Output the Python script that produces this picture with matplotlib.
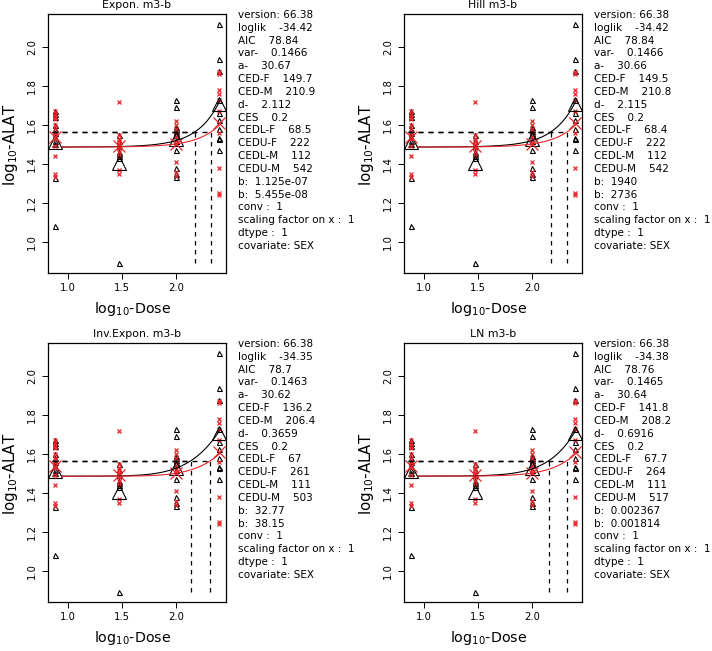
import math
import numpy as np
import matplotlib
matplotlib.use("Agg")
import matplotlib.pyplot as plt

W, H = 712, 651

# ---------------- data ----------------
log_dose_levels = [0.88, 1.477, 2.0, 2.398]

# females (black triangles)
female_vals = [
    [1.67, 1.655, 1.64, 1.60, 1.58, 1.56, 1.52, 1.50, 1.33, 1.08],
    [1.55, 1.52, 1.49, 1.46, 1.45, 1.44, 1.43, 0.89],
    [1.73, 1.69, 1.59, 1.58, 1.57, 1.56, 1.55, 1.52, 1.47, 1.38, 1.35, 1.335],
    [2.12, 1.94, 1.875, 1.73, 1.66, 1.625, 1.58, 1.535, 1.53, 1.47],
]
# males (red crosses)
male_vals = [
    [1.67, 1.655, 1.64, 1.63, 1.60, 1.58, 1.56, 1.55, 1.53, 1.49, 1.44, 1.35, 1.335],
    [1.72, 1.55, 1.53, 1.52, 1.50, 1.49, 1.48, 1.46, 1.44, 1.37, 1.35],
    [1.62, 1.60, 1.58, 1.56, 1.54, 1.52, 1.50, 1.41, 1.36, 1.34],
    [1.87, 1.86, 1.78, 1.76, 1.73, 1.67, 1.56, 1.38, 1.25, 1.24],
]

model_titles = ["Expon. m3-b", "Hill m3-b", "Inv.Expon. m3-b", "LN m3-b"]
model_kind = ["expon", "hill", "invexp", "ln"]
ces = 0.2
a_vals = [30.67, 30.66, 30.62, 30.64]
ced_f = [149.7, 149.5, 136.2, 141.8]
ced_m = [210.9, 210.8, 206.4, 208.2]
d_vals = [2.112, 2.115, 0.3659, 0.6916]
b_f = [1.125e-07, 1940, 32.77, 0.002367]
b_m = [5.455e-08, 2736, 38.15, 0.001814]

info_lines = [
    ["version: 66.38", "loglik    -34.42", "AIC    78.84", "var-    0.1466", "a-    30.67",
     "CED-F    149.7", "CED-M    210.9", "d-    2.112", "CES    0.2", "CEDL-F    68.5",
     "CEDU-F    222", "CEDL-M    112", "CEDU-M    542", "b:  1.125e-07", "b:  5.455e-08",
     "conv :  1", "scaling factor on x :  1", "dtype :  1", "covariate: SEX"],
    ["version: 66.38", "loglik    -34.42", "AIC    78.84", "var-    0.1466", "a-    30.66",
     "CED-F    149.5", "CED-M    210.8", "d-    2.115", "CES    0.2", "CEDL-F    68.4",
     "CEDU-F    222", "CEDL-M    112", "CEDU-M    542", "b:  1940", "b:  2736",
     "conv :  1", "scaling factor on x :  1", "dtype :  1", "covariate: SEX"],
    ["version: 66.38", "loglik    -34.35", "AIC    78.7", "var-    0.1463", "a-    30.62",
     "CED-F    136.2", "CED-M    206.4", "d-    0.3659", "CES    0.2", "CEDL-F    67",
     "CEDU-F    261", "CEDL-M    111", "CEDU-M    503", "b:  32.77", "b:  38.15",
     "conv :  1", "scaling factor on x :  1", "dtype :  1", "covariate: SEX"],
    ["version: 66.38", "loglik    -34.38", "AIC    78.76", "var-    0.1465", "a-    30.64",
     "CED-F    141.8", "CED-M    208.2", "d-    0.6916", "CES    0.2", "CEDL-F    67.7",
     "CEDU-F    264", "CEDL-M    111", "CEDU-M    517", "b:  0.002367", "b:  0.001814",
     "conv :  1", "scaling factor on x :  1", "dtype :  1", "covariate: SEX"],
]


def phi(z):
    return 0.5 * (1.0 + math.erf(z / math.sqrt(2.0)))


def shape(kind, x, b, d):
    if kind == "expon":
        return x ** d
    if kind == "hill":
        return x ** d / (b ** d + x ** d)
    if kind == "invexp":
        return math.exp(-b * x ** (-d))
    return phi(math.log(b) + d * math.log(x))


def curve(kind, a, ced, b, d, logx):
    fc = shape(kind, ced, b, d)
    out = []
    for lx in logx:
        x = 10 ** lx
        out.append(math.log10(a * math.exp(math.log(1 + ces) * shape(kind, x, b, d) / fc)))
    return np.array(out)


# ---------------- layout ----------------
fig = plt.figure(figsize=(W / 100, H / 100), dpi=100)

def fx(p):
    return p / W

def fy(p):
    return 1 - p / H

panel_origin = [(0, 0), (356, 0), (0, 329), (356, 329)]
ax_l, ax_r, ax_t, ax_b = 48, 226, 14, 273

dash = (0, (3.6, 3.6))
red = "#e8262a"

for i in range(4):
    ox, oy = panel_origin[i]
    ax = fig.add_axes([fx(ox + ax_l), fy(oy + ax_b), (ax_r - ax_l) / W, (ax_b - ax_t) / H])
    kind = model_kind[i]
    a = a_vals[i]
    d = d_vals[i]

    # raw data
    for j, lx in enumerate(log_dose_levels):
        ax.plot([lx] * len(female_vals[j]), female_vals[j], linestyle="none", marker="^",
                ms=3.6, mfc="none", mec="black", mew=0.8)
        ax.plot([lx] * len(male_vals[j]), male_vals[j], linestyle="none", marker="x",
                ms=3.2, color=red, mew=0.9)
    # group means
    fmeans = [np.mean(v) for v in female_vals]
    mmeans = [np.mean(v) for v in male_vals]
    ax.plot(log_dose_levels, fmeans, linestyle="none", marker="^", ms=9.5, mfc="none",
            mec="black", mew=0.8)
    ax.plot(log_dose_levels, mmeans, linestyle="none", marker="x", ms=8, color=red,
            mew=0.9)

    # fitted curves
    x_dash = np.linspace(0.86, 0.96, 10)
    x_solid = np.linspace(0.96, log_dose_levels[-1], 200)
    for ced, b, col in [(ced_f[i], b_f[i], "black"), (ced_m[i], b_m[i], red)]:
        ax.plot(x_dash, curve(kind, a, ced, b, d, x_dash), color=col, lw=0.9, linestyle=dash)
        ax.plot(x_solid, curve(kind, a, ced, b, d, x_solid), color=col, lw=0.8)

    # CES lines
    yces = math.log10(a * (1 + ces))
    ymin = min(min(v) for v in female_vals + male_vals)
    for ced in (ced_m[i], ced_f[i]):
        lc = math.log10(ced)
        ax.plot([0.86, lc], [yces, yces], color="black", lw=1.0, linestyle=dash)
        ax.plot([lc, lc], [ymin, yces], color="black", lw=0.9, linestyle=dash)

    ax.set_xlim(0.82, 2.458)
    ax.set_ylim(0.84, 2.17)
    ax.set_xticks([1.0, 1.5, 2.0])
    ax.set_xticklabels(["1.0", "1.5", "2.0"])
    ax.set_yticks([1.0, 1.2, 1.4, 1.6, 1.8, 2.0])
    ax.set_yticklabels(["1.0", "1.2", "1.4", "1.6", "1.8", "2.0"], rotation=90, va="center")
    ax.tick_params(axis="both", length=4, width=0.7, labelsize=7.2, colors="black")
    ax.tick_params(axis="x", pad=3)
    ax.tick_params(axis="y", pad=4)
    for s in ax.spines.values():
        s.set_linewidth(0.9)

    # title and labels
    fig.text(fx(ox + (ax_l + ax_r) / 2), fy(oy + 5), model_titles[i], ha="center",
             va="center", fontsize=7.8)
    fig.text(fx(ox + 10), fy(oy + 145), r"log$_{10}$-ALAT", rotation=90, ha="center",
             va="center", fontsize=10.8)
    fig.text(fx(ox + 133), fy(oy + 309), r"log$_{10}$-Dose", ha="center", va="center",
             fontsize=10.3)

    # info text
    for k, line in enumerate(info_lines[i]):
        fig.text(fx(ox + 238), fy(oy + 15 + k * 12.83), line, ha="left", va="center",
                 fontsize=7.5)

fig.savefig("out.png", dpi=100)
